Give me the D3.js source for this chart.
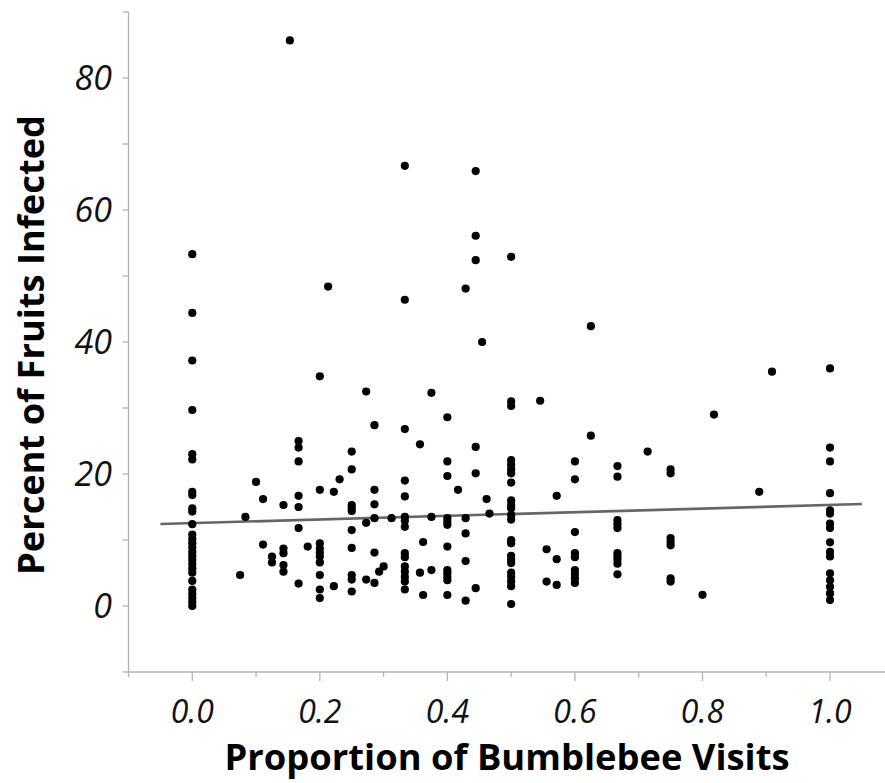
<!DOCTYPE html>
<html>
<head>
<meta charset="utf-8">
<script src="https://cdn.jsdelivr.net/npm/d3@7"></script>
<style>
  html, body { margin: 0; padding: 0; background: #fff; }
  svg { display: block; }
  .tick-label { font-family: "Open Sans", "Noto Sans", sans-serif; font-style: italic; fill: #111; }
  .axis-title { font-family: "Open Sans", "Noto Sans", sans-serif; font-weight: 700; fill: #000; }
</style>
</head>
<body>
<svg id="chart" width="885" height="783"></svg>
<script>
// Proportion of bumblebee visits (distinct levels) and the percent of fruits infected observed at each level
const proportionLevels = [
  0, 0.075, 0.0833, 0.1, 0.111, 0.125, 0.143, 0.153, 0.1667, 0.181,
  0.2, 0.213, 0.222, 0.231, 0.25, 0.2727, 0.2857, 0.293, 0.3, 0.3125,
  0.3333, 0.357, 0.362, 0.375, 0.4, 0.4167, 0.4286, 0.4444, 0.4545, 0.4615,
  0.466, 0.5, 0.5455, 0.5556, 0.5714, 0.6, 0.625, 0.6667, 0.714, 0.75,
  0.8, 0.818, 0.889, 0.909, 1.0
];
const percentByLevel = [
  [53.3, 44.4, 37.2, 29.7, 23.0, 22.2, 17.3, 16.8, 14.8, 14.3, 12.4, 10.8, 10.1, 9.5, 8.9, 8.2, 7.6, 7.0, 6.4, 5.7, 5.05, 3.8, 2.5, 1.85, 1.2, 0.6, 0.0],
  [4.7],
  [13.5],
  [18.8],
  [16.2, 9.3],
  [7.5, 6.6],
  [15.3, 8.7, 8.0, 6.2, 5.2],
  [85.7],
  [25.0, 24.0, 21.9, 16.7, 15.0, 11.8, 3.4],
  [9.0],
  [34.8, 17.6, 9.5, 8.7, 8.1, 7.5, 6.6, 4.7, 2.5, 1.2],
  [48.4],
  [17.3, 3.0],
  [19.2],
  [23.4, 20.7, 15.3, 14.9, 14.4, 11.5, 8.8, 4.7, 4.0, 2.2],
  [32.5, 12.6, 4.0],
  [27.4, 17.6, 15.4, 13.3, 8.1, 3.5],
  [5.2],
  [6.0],
  [13.3],
  [66.7, 46.4, 26.8, 19.0, 16.6, 13.5, 12.9, 12.0, 8.0, 7.4, 6.0, 5.2, 4.4, 3.7, 2.5],
  [24.5, 5.05],
  [9.7, 1.67],
  [32.3, 13.5, 5.45],
  [28.6, 21.9, 19.7, 13.3, 12.8, 12.3, 9.0, 5.45, 4.95, 4.4, 3.9, 1.67],
  [17.6],
  [48.1, 13.3, 11.0, 6.8, 0.8],
  [65.9, 56.1, 52.4, 24.1, 20.1, 2.7],
  [40.0],
  [16.2],
  [14.0],
  [52.9, 31.0, 30.3, 22.1, 21.4, 20.7, 20.1, 18.7, 16.0, 15.3, 14.8, 13.8, 13.1, 10.0, 9.5, 7.6, 7.0, 6.5, 5.05, 4.4, 3.7, 3.0, 0.3],
  [31.1],
  [8.6, 3.7],
  [16.7, 7.1, 3.2],
  [21.9, 19.2, 11.2, 8.0, 7.4, 5.45, 4.85, 4.2, 3.5],
  [42.4, 25.8],
  [21.2, 19.6, 13.0, 12.4, 11.8, 8.0, 7.5, 7.0, 6.4, 4.8],
  [23.4],
  [20.7, 20.1, 10.3, 9.7, 9.2, 4.2, 3.7],
  [1.7],
  [29.0],
  [17.3],
  [35.5],
  [36.0, 24.0, 21.9, 17.1, 14.5, 14.0, 12.5, 11.8, 9.65, 8.2, 7.5, 4.95, 3.9, 2.9, 1.9, 0.9]
];

// Linear fit: percent infected = intercept + slope * proportion
const fitIntercept = 12.56;
const fitSlope = 2.75;
const fitRange = [-0.05, 1.05];

// Axis ticks
const xTickValues = [0, 0.2, 0.4, 0.6, 0.8, 1.0];
const xMinorTicks = [-0.1, 0.1, 0.3, 0.5, 0.7, 0.9];
const yTickValues = [0, 20, 40, 60, 80];
const yMinorTicks = [-10, 10, 30, 50, 70, 90];

const xTitle = "Proportion of Bumblebee Visits";
const yTitle = "Percent of Fruits Infected";

const points = proportionLevels.flatMap((p, i) => percentByLevel[i].map(v => ({ p, v })));

const svg = d3.select("#chart");
const x = d3.scaleLinear().domain([-0.1, 1.1]).range([128.5, 893.8]);
const y = d3.scaleLinear().domain([-10, 90]).range([672, 12]);

const axisColor = "#b3b3b3";

// Y axis: line plus every-10 ticks, labels on every 20
const yAxisG = svg.append("g").attr("transform", `translate(${x(-0.1)},0)`);
yAxisG.append("line")
  .attr("x1", 0).attr("x2", 0).attr("y1", y(90)).attr("y2", y(-10))
  .attr("stroke", axisColor).attr("stroke-width", 1.3);
yAxisG.selectAll("line.tick")
  .data(yTickValues.concat(yMinorTicks))
  .join("line").attr("class", "tick")
  .attr("x1", -6).attr("x2", 0)
  .attr("y1", d => y(d)).attr("y2", d => y(d))
  .attr("stroke", axisColor).attr("stroke-width", 1.3);
svg.append("g").selectAll("text")
  .data(yTickValues)
  .join("text").attr("class", "tick-label")
  .attr("x", 112).attr("y", d => y(d))
  .attr("dy", "0.36em")
  .attr("text-anchor", "end")
  .style("font-size", "34px")
  .text(d => d3.format("d")(d));

// X axis: line plus every-0.1 ticks, labels on every 0.2
const xAxisG = svg.append("g").attr("transform", `translate(0,${y(-10)})`);
xAxisG.append("line")
  .attr("x1", x(-0.1)).attr("x2", 885).attr("y1", 0).attr("y2", 0)
  .attr("stroke", axisColor).attr("stroke-width", 1.3);
xAxisG.selectAll("line.major")
  .data(xTickValues)
  .join("line").attr("class", "major")
  .attr("x1", d => x(d)).attr("x2", d => x(d))
  .attr("y1", 0).attr("y2", 9)
  .attr("stroke", axisColor).attr("stroke-width", 1.3);
xAxisG.selectAll("line.minor")
  .data(xMinorTicks)
  .join("line").attr("class", "minor")
  .attr("x1", d => x(d)).attr("x2", d => x(d))
  .attr("y1", 0).attr("y2", 5)
  .attr("stroke", axisColor).attr("stroke-width", 1.3);
svg.append("g").selectAll("text")
  .data(xTickValues)
  .join("text").attr("class", "tick-label")
  .attr("x", d => x(d)).attr("y", 723)
  .attr("text-anchor", "middle")
  .style("font-size", "32px")
  .text(d => d3.format(".1f")(d));

// Axis titles
svg.append("text").attr("class", "axis-title")
  .attr("x", 507).attr("y", 770)
  .attr("text-anchor", "middle")
  .attr("textLength", 565).attr("lengthAdjust", "spacingAndGlyphs")
  .style("font-size", "36px")
  .text(xTitle);
svg.append("text").attr("class", "axis-title")
  .attr("transform", "translate(44,345) rotate(-90)")
  .attr("text-anchor", "middle")
  .attr("textLength", 460).attr("lengthAdjust", "spacingAndGlyphs")
  .style("font-size", "36px")
  .text(yTitle);

// Fitted line
svg.append("line")
  .attr("x1", x(fitRange[0])).attr("y1", y(fitIntercept + fitSlope * fitRange[0]))
  .attr("x2", x(fitRange[1])).attr("y2", y(fitIntercept + fitSlope * fitRange[1]))
  .attr("stroke", "#666").attr("stroke-width", 2.6);

// Observations
svg.append("g").selectAll("circle")
  .data(points)
  .join("circle")
  .attr("cx", d => x(d.p)).attr("cy", d => y(d.v))
  .attr("r", 4.1)
  .attr("fill", "#000");
</script>
</body>
</html>
